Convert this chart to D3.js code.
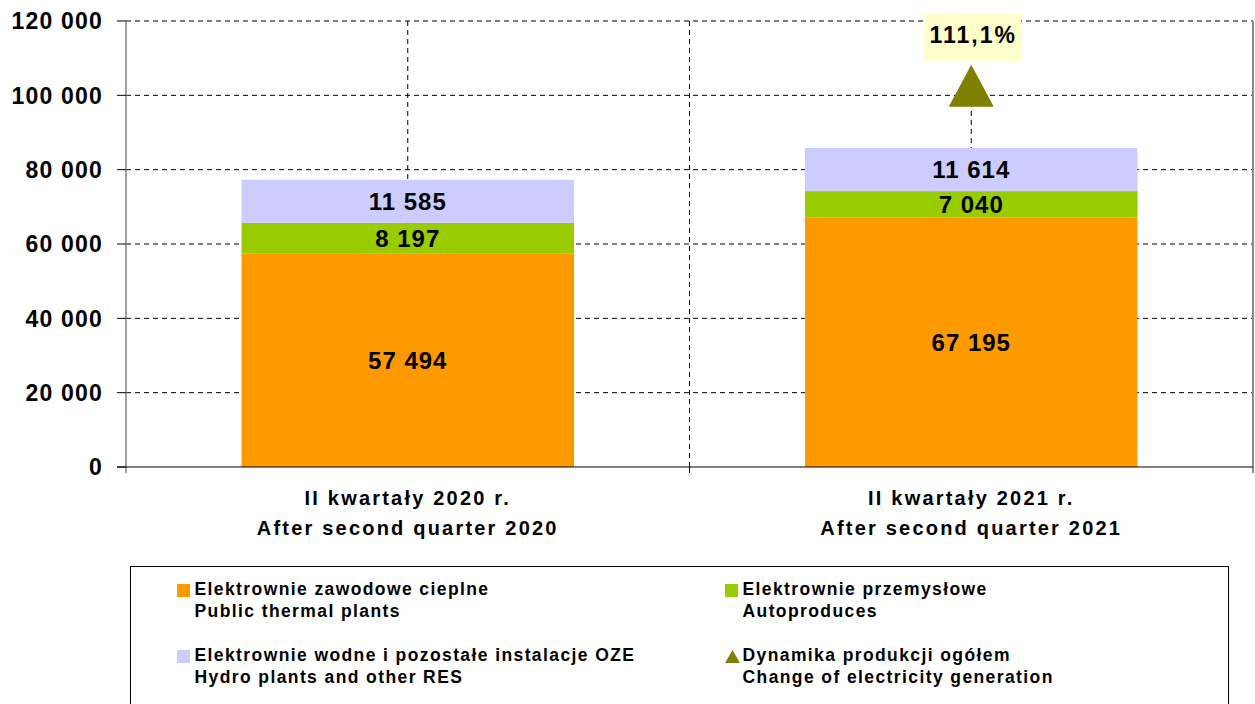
<!DOCTYPE html>
<html><head><meta charset="utf-8">
<script src="https://cdn.jsdelivr.net/npm/d3@7"></script>
<style>body{margin:0;background:#fff;} svg{display:block;font-family:"Liberation Sans",Arial,sans-serif;}</style>
</head><body>
<svg id="c" width="1255" height="704"></svg>
<script>
const categories = [["II kwartały 2020 r.", "After second quarter 2020"], ["II kwartały 2021 r.", "After second quarter 2021"]];
const catKeys = ["2020", "2021"];
const thermal = [57494, 67195];
const autoprod = [8197, 7040];
const hydro = [11585, 11614];
const dynamics = [null, 111.1];
const yTicks = [0, 20000, 40000, 60000, 80000, 100000, 120000];
const seriesNames = [
  ["Elektrownie zawodowe cieplne", "Public thermal plants"],
  ["Elektrownie przemysłowe", "Autoproduces"],
  ["Elektrownie wodne i pozostałe instalacje OZE", "Hydro plants and other RES"],
  ["Dynamika produkcji ogółem", "Change of electricity generation"]
];
const colors = ["#FF9900", "#99CC00", "#CCCCFF", "#808000"];

const svg = d3.select("#c");
const L = 126, R = 1253, T = 21, B = 467;
const x = d3.scaleBand().domain(catKeys).range([L, R]);
const y = d3.scaleLinear().domain([0, 120000]).range([B, T]);
const y2 = d3.scaleLinear().domain([0, 130]).range([B, T]);
const fmt = v => d3.format(",")(v).replace(/,/g, " ");

// horizontal gridlines
svg.append("g").selectAll("line").data(yTicks.filter(d => d > 0)).join("line")
  .attr("x1", L).attr("x2", R).attr("y1", d => y(d)).attr("y2", d => y(d))
  .attr("stroke", "#000").attr("stroke-width", 1).attr("stroke-dasharray", "5,4");
// vertical gridlines
const vx = [x(catKeys[0]) + x.bandwidth() / 2, x(catKeys[1]), x(catKeys[1]) + x.bandwidth() / 2];
svg.append("g").selectAll("line").data(vx).join("line")
  .attr("x1", d => d).attr("x2", d => d).attr("y1", T).attr("y2", B)
  .attr("stroke", "#000").attr("stroke-width", 1).attr("stroke-dasharray", "5,4");

// stacked bars
const stackData = catKeys.map((k, i) => ({key: k, t: thermal[i], a: autoprod[i], h: hydro[i]}));
const stack = d3.stack().keys(["t", "a", "h"])(stackData);
const bw = x.bandwidth() * 0.59;
const g = svg.append("g");
stack.forEach((s, si) => {
  g.selectAll(null).data(s).join("rect")
    .attr("x", d => x(d.data.key) + x.bandwidth() / 2 - bw / 2)
    .attr("width", bw)
    .attr("y", d => y(d[1]))
    .attr("height", d => y(d[0]) - y(d[1]))
    .attr("fill", colors[si]);
  g.selectAll(null).data(s).join("text")
    .attr("x", d => x(d.data.key) + x.bandwidth() / 2)
    .attr("y", d => (y(d[0]) + y(d[1])) / 2)
    .attr("dy", "0.36em")
    .attr("text-anchor", "middle")
    .attr("font-weight", "bold").attr("font-size", 24).attr("letter-spacing", 1)
    .text(d => fmt(d[1] - d[0]));
});

// axes
const ya = svg.append("g");
ya.append("line").attr("x1", L).attr("x2", L).attr("y1", T).attr("y2", B + 6).attr("stroke", "#808080").attr("stroke-width", 1.5);
ya.selectAll(".tk").data(yTicks).join("line").attr("class", "tk")
  .attr("x1", L - 9).attr("x2", L).attr("y1", d => y(d)).attr("y2", d => y(d)).attr("stroke", "#000");
ya.selectAll("text").data(yTicks).join("text")
  .attr("x", 103).attr("y", d => y(d)).attr("dy", "0.36em")
  .attr("text-anchor", "end").attr("font-weight", "bold").attr("font-size", 23)
  .attr("letter-spacing", 1.2)
  .text(d => fmt(d));
svg.append("line").attr("x1", R).attr("x2", R).attr("y1", T).attr("y2", B + 6).attr("stroke", "#8a8a8a").attr("stroke-width", 2);
svg.append("line").attr("x1", L - 9).attr("x2", R).attr("y1", B).attr("y2", B).attr("stroke", "#000").attr("stroke-width", 1.2);
svg.append("line").attr("x1", x(catKeys[1])).attr("x2", x(catKeys[1])).attr("y1", B).attr("y2", B + 6).attr("stroke", "#000");

// category labels
categories.forEach((c, i) => {
  const t = svg.append("text").attr("text-anchor", "middle").attr("font-weight", "bold").attr("font-size", 20)
    .attr("letter-spacing", 2.2);
  t.append("tspan").attr("x", x(catKeys[i]) + x.bandwidth() / 2).attr("y", 505).text(c[0]);
  t.append("tspan").attr("x", x(catKeys[i]) + x.bandwidth() / 2).attr("y", 535).text(c[1]);
});

// dynamics marker + label
dynamics.forEach((v, i) => {
  if (v == null) return;
  const cx = x(catKeys[i]) + x.bandwidth() / 2, cy = y2(v);
  svg.append("path").attr("d", `M${cx - 22.5},${cy + 21}L${cx + 22.5},${cy + 21}L${cx},${cy - 21}Z`)
    .attr("fill", colors[3]);
  svg.append("rect").attr("x", cx - 47).attr("y", 14).attr("width", 97).attr("height", 48).attr("fill", "#FFFFCC");
  svg.append("text").attr("x", cx + 2).attr("y", 43).attr("text-anchor", "middle")
    .attr("font-weight", "bold").attr("font-size", 23).attr("letter-spacing", 2)
    .text(d3.format(".1f")(v).replace(".", ",") + "%");
});

// legend
svg.append("rect").attr("x", 130.5).attr("y", 566.5).attr("width", 1098).attr("height", 150)
  .attr("fill", "none").attr("stroke", "#000").attr("stroke-width", 1);
const legPos = [[177, 584], [725, 584], [177, 650], [725, 650]];
seriesNames.forEach((n, i) => {
  const [lx, ly] = legPos[i];
  if (i < 3) {
    svg.append("rect").attr("x", lx).attr("y", ly).attr("width", 13).attr("height", 13).attr("fill", colors[i]);
  } else {
    svg.append("path").attr("d", `M${lx},${ly + 13}L${lx + 15},${ly + 13}L${lx + 7.5},${ly}Z`)
      .attr("fill", colors[3]);
  }
  const t = svg.append("text").attr("font-weight", "bold").attr("font-size", 17.5).attr("letter-spacing", 1.4);
  t.append("tspan").attr("x", lx + 17.5).attr("y", ly + 11).text(n[0]);
  t.append("tspan").attr("x", lx + 17.5).attr("y", ly + 33).text(n[1]);
});
</script>
</body></html>
